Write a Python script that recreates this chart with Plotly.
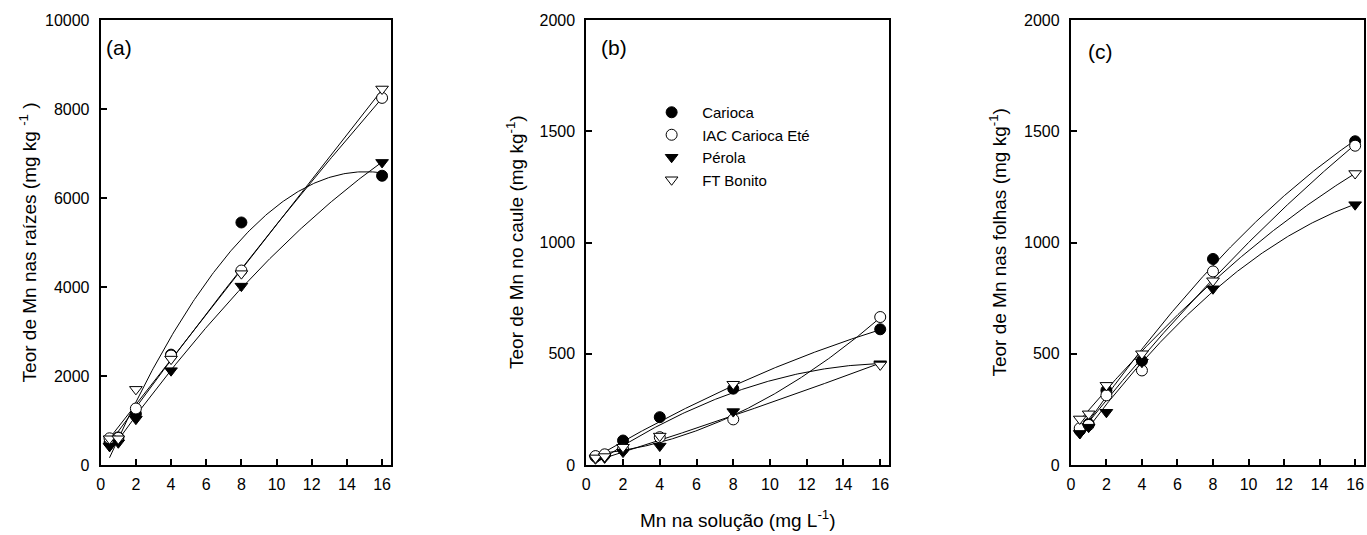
import numpy as np
import plotly.graph_objects as go

# ---------------- data ----------------
mn_solution = [0.5, 1, 2, 4, 8, 16]
cultivars = ["Carioca", "IAC Carioca Eté", "Pérola", "FT Bonito"]

# (a) roots
raiz_carioca = [500, 620, 1150, 2480, 5450, 6500]
raiz_iac = [600, 610, 1270, 2460, 4370, 8250]
raiz_perola = [420, 500, 1030, 2120, 4020, 6800]
raiz_ftbonito = [590, 590, 1700, 2380, 4300, 8450]

# (b) stem
caule_carioca = [38, 45, 110, 215, 343, 610]
caule_iac = [40, 48, 72, 125, 205, 665]
caule_perola = [28, 32, 58, 85, 240, 455]
caule_ftbonito = [32, 38, 80, 130, 363, 450]

# (c) leaves
folha_carioca = [155, 185, 335, 468, 926, 1455]
folha_iac = [165, 180, 313, 425, 870, 1435]
folha_perola = [142, 170, 237, 462, 792, 1170]
folha_ftbonito = [207, 230, 358, 500, 828, 1310]

x_ticks = [0, 2, 4, 6, 8, 10, 12, 14, 16]

panels = [
    dict(series=[raiz_carioca, raiz_iac, raiz_perola, raiz_ftbonito],
         ymax=10000, dtick=2000, label="(a)",
         ytitle="Teor de Mn nas raízes (mg kg <sup>-1</sup> )"),
    dict(series=[caule_carioca, caule_iac, caule_perola, caule_ftbonito],
         ymax=2000, dtick=500, label="(b)",
         ytitle="Teor de Mn no caule (mg kg<sup>-1</sup>)"),
    dict(series=[folha_carioca, folha_iac, folha_perola, folha_ftbonito],
         ymax=2000, dtick=500, label="(c)",
         ytitle="Teor de Mn nas folhas (mg kg<sup>-1</sup>)"),
]

# ---------------- styling ----------------
W, H = 1367, 535
FONT = "Arial, Liberation Sans, sans-serif"
symbols = ["circle", "circle", "triangle-down", "triangle-down"]
fills = ["black", "white", "black", "white"]
domains_px = [(97, 388), (584, 888), (1070, 1364)]
title_x_px = [24, 512, 996]
label_x_px = [100, 597, 1085]
label_y_px = [47, 48, 51]
TOP, BOTTOM = 20, 70

fig = go.Figure()

for p, panel in enumerate(panels):
    xa = "x" if p == 0 else f"x{p+1}"
    ya = "y" if p == 0 else f"y{p+1}"
    # fitted quadratic regression curves
    xs = np.linspace(min(mn_solution), max(mn_solution), 200)
    for s in panel["series"]:
        coef = np.polyfit(mn_solution, s, 2)
        fig.add_trace(go.Scatter(x=xs, y=np.polyval(coef, xs), mode="lines",
                                 line=dict(color="black", width=1),
                                 xaxis=xa, yaxis=ya, showlegend=False,
                                 hoverinfo="skip"))
    for i, s in enumerate(panel["series"]):
        fig.add_trace(go.Scatter(
            x=mn_solution, y=s, mode="markers", name=cultivars[i],
            marker=dict(symbol=symbols[i], size=11, color=fills[i],
                        line=dict(color="black", width=1)),
            xaxis=xa, yaxis=ya, showlegend=(p == 1),
            legendgroup=cultivars[i]))

layout = dict(
    width=W, height=H,
    margin=dict(l=0, r=0, t=TOP, b=BOTTOM, pad=0),
    paper_bgcolor="white", plot_bgcolor="white",
    font=dict(family=FONT, size=16, color="black"),
    showlegend=True,
    legend=dict(x=639 / W, xanchor="left", y=1 - (96 - TOP) / (H - TOP - BOTTOM),
                yanchor="top", bgcolor="rgba(0,0,0,0)", borderwidth=0,
                font=dict(family=FONT, size=15, color="black"),
                itemwidth=51, tracegroupgap=0),
)

annotations = []
for p, panel in enumerate(panels):
    xk = "xaxis" if p == 0 else f"xaxis{p+1}"
    yk = "yaxis" if p == 0 else f"yaxis{p+1}"
    ya_anchor = "y" if p == 0 else f"y{p+1}"
    xa_anchor = "x" if p == 0 else f"x{p+1}"
    d0, d1 = domains_px[p]
    common = dict(showline=True, linewidth=2, linecolor="black", mirror=True,
                  ticks="inside", ticklen=6, tickwidth=1.5, tickcolor="black",
                  showgrid=False, zeroline=False,
                  tickfont=dict(family=FONT, size=16, color="black"))
    layout[xk] = dict(domain=[d0 / W, d1 / W], range=[0, 16.5],
                      tickvals=x_ticks, anchor=ya_anchor,
                      ticklabelstandoff=4, **common)
    layout[yk] = dict(domain=[0, 1], range=[0, panel["ymax"]],
                      dtick=panel["dtick"], tick0=0, anchor=xa_anchor,
                      tickformat="d", ticklabelstandoff=6, **common)
    annotations.append(dict(text=panel["ytitle"], xref="paper", yref="paper",
                            x=title_x_px[p] / W, y=0.5, textangle=-90,
                            showarrow=False, xanchor="center", yanchor="middle",
                            font=dict(family=FONT, size=19, color="black")))
    annotations.append(dict(text=panel["label"], xref="paper", yref="paper",
                            x=label_x_px[p] / W,
                            y=1 - (label_y_px[p] - TOP) / (H - TOP - BOTTOM),
                            showarrow=False, xanchor="left", yanchor="middle",
                            font=dict(family=FONT, size=21, color="black")))

annotations.append(dict(text="Mn na solução (mg L<sup>-1</sup>)", xref="paper",
                        yref="paper", x=736 / W,
                        y=-(519 - (H - BOTTOM)) / (H - TOP - BOTTOM),
                        showarrow=False, xanchor="center", yanchor="middle",
                        font=dict(family=FONT, size=19, color="black")))
layout["annotations"] = annotations

fig.update_layout(**layout)
fig.write_html("out.html")
